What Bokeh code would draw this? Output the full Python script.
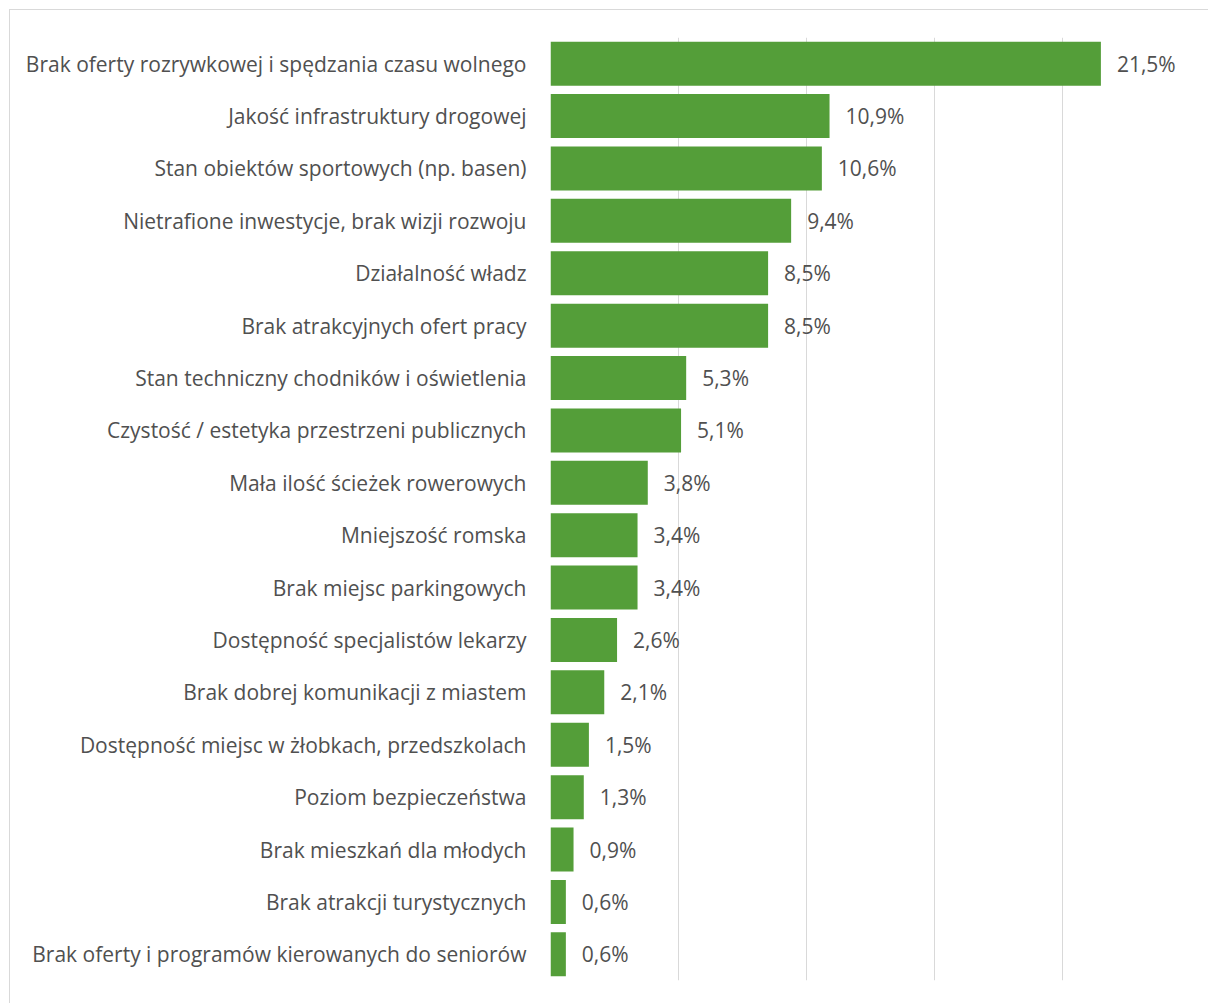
from bokeh.plotting import figure
from bokeh.models import FactorRange, Range1d, FixedTicker, ColumnDataSource, Label
from bokeh.embed import file_html
from bokeh.resources import INLINE
from bokeh.core.properties import value

title_text = "Wykres 15 Co Pana/Pani zdaniem jest największą wadą, słabą stroną zamieszkiwanej gminy?"

categories = [
    "Brak oferty rozrywkowej i spędzania czasu wolnego",
    "Jakość infrastruktury drogowej",
    "Stan obiektów sportowych (np. basen)",
    "Nietrafione inwestycje, brak wizji rozwoju",
    "Działalność władz",
    "Brak atrakcyjnych ofert pracy",
    "Stan techniczny chodników i oświetlenia",
    "Czystość / estetyka przestrzeni publicznych",
    "Mała ilość ścieżek rowerowych",
    "Mniejszość romska",
    "Brak miejsc parkingowych",
    "Dostępność specjalistów lekarzy",
    "Brak dobrej komunikacji z miastem",
    "Dostępność miejsc w żłobkach, przedszkolach",
    "Poziom bezpieczeństwa",
    "Brak mieszkań dla młodych",
    "Brak atrakcji turystycznych",
    "Brak oferty i programów kierowanych do seniorów",
]
values = [21.5, 10.9, 10.6, 9.4, 8.5, 8.5, 5.3, 5.1, 3.8, 3.4, 3.4, 2.6, 2.1, 1.5, 1.3, 0.9, 0.6, 0.6]
x_ticks = [0, 5, 10, 15, 20, 25]

labels = [f"{v:.1f}".replace(".", ",") + "%" for v in values]
source = ColumnDataSource(dict(cat=categories, val=values, lab=labels))

FONT = "Open Sans"
TXT = "#505050"
GRID = "#D9D9D9"

p = figure(
    width=1208, height=1003,
    y_range=FactorRange(factors=list(reversed(categories)), range_padding=0),
    x_range=Range1d(0, 25),
    output_backend="svg", toolbar_location=None,
    min_border_left=550, min_border_right=18, min_border_top=37, min_border_bottom=23,
)
p.outline_line_color = None
p.background_fill_color = "white"
p.border_fill_color = None
# outer chart border (left and top edges visible, as in the reference)
p.styles = {
    "background": (
        f"linear-gradient({GRID},{GRID}) 9px 9px / 1px 100% no-repeat, "
        f"linear-gradient({GRID},{GRID}) 9px 9px / 100% 1px no-repeat, white"
    )
}

p.hbar(y="cat", right="val", left=0, height=0.84, source=source,
       fill_color="#549E39", line_color=None)

p.text(x="val", y="cat", text="lab", source=source, x_offset=16,
       text_baseline="middle", text_align="left",
       text_font=value(FONT), text_font_size="21px", text_color=TXT)

p.xaxis.visible = False
p.xaxis.ticker = FixedTicker(ticks=x_ticks)
p.xgrid.grid_line_color = GRID
p.xgrid.grid_line_width = 1
p.ygrid.grid_line_color = None

ax = p.yaxis[0]
ax.axis_line_color = None
ax.major_tick_line_color = None
ax.minor_tick_line_color = None
ax.major_tick_in = 0
ax.major_tick_out = 0
ax.major_label_standoff = 24
ax.major_label_text_font = FONT
ax.major_label_text_font_size = "21px"
ax.major_label_text_color = TXT

title = Label(x=-540, y=976, x_units="screen", y_units="screen", text=title_text,
              text_font=FONT, text_font_size="20px", text_font_style="bold italic",
              text_color="#4472C4", text_baseline="alphabetic")
p.add_layout(title)

open("out.html", "w").write(file_html(p, INLINE))
